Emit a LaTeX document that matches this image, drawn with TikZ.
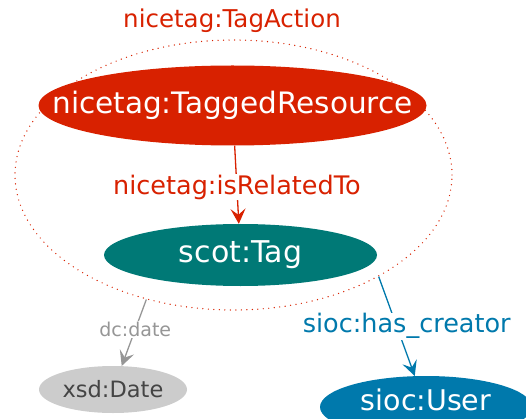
\documentclass[tikz,border=0pt]{standalone}
\usepackage{fontspec}
\setmainfont{DejaVu Sans}
\usepackage{xcolor}
\definecolor{tagred}{RGB}{216, 33, 0}
\definecolor{tagteal}{RGB}{0, 121, 118}
\definecolor{tagblue}{RGB}{0, 121, 172}
\definecolor{datefill}{RGB}{204, 204, 204}
\definecolor{datetext}{RGB}{68, 68, 68}
\definecolor{dategray}{RGB}{150, 150, 150}
\usetikzlibrary{shapes.geometric,arrows.meta}

\begin{document}
\begin{tikzpicture}[x=1pt, y=-1pt,
  blob/.style={ellipse, inner sep=0pt},
  rellabel/.style={fill=white, inner sep=1pt},
  edgestyle/.style={-{Stealth[length=15pt, width=15pt, inset=6pt]}, line width=1.3pt}
]
\useasboundingbox (0,0) rectangle (526,419);
\clip (0,0) rectangle (526,419);

\node[blob, draw=tagred, line width=1.4pt, line cap=round, dash pattern=on 0pt off 5.5pt, minimum width=437, minimum height=270] (action) at (233.5, 175) {};
\node[text=tagred, font=\fontsize{24.5}{26}\selectfont] (actionname) at (232, 21) {nicetag:TagAction};

\node[blob, fill=tagred, minimum width=388, minimum height=80] (res) at (232.5, 105.5) {};
\node[text=white, font=\fontsize{29.5}{31}\selectfont] (resname) at (res) {nicetag:TaggedResource};

\node[blob, fill=tagteal, minimum width=273, minimum height=62] (tag) at (240.5, 255) {};
\node[text=white, font=\fontsize{30}{32}\selectfont] (tagname) at (tag) {scot:Tag};

\node[blob, fill=datefill, minimum width=148, minimum height=47] (date) at (113, 389.5) {};
\node[text=datetext, font=\fontsize{22.5}{24}\selectfont] (datename) at (date) {xsd:Date};

\node[blob, fill=tagblue, minimum width=212, minimum height=62] (user) at (426, 407) {};
\node[text=white, font=\fontsize{28.5}{30}\selectfont] (username) at ([yshift=7pt]user.center) {sioc:User};

\draw[edgestyle, tagred] (res) -- (tag)
  node[rellabel, pos=0.53, text=tagred, font=\fontsize{25.5}{27}\selectfont] {nicetag:isRelatedTo};
\draw[edgestyle, dategray] (action.235) -- (date)
  node[rellabel, pos=0.45, text=dategray, font=\fontsize{19}{21}\selectfont] {dc:date};
\draw[edgestyle, tagblue] (action.325) -- (user)
  node[rellabel, pos=0.5, xshift=10pt, text=tagblue, font=\fontsize{25.5}{27}\selectfont] {sioc:has\_creator};
\end{tikzpicture}
\end{document}
